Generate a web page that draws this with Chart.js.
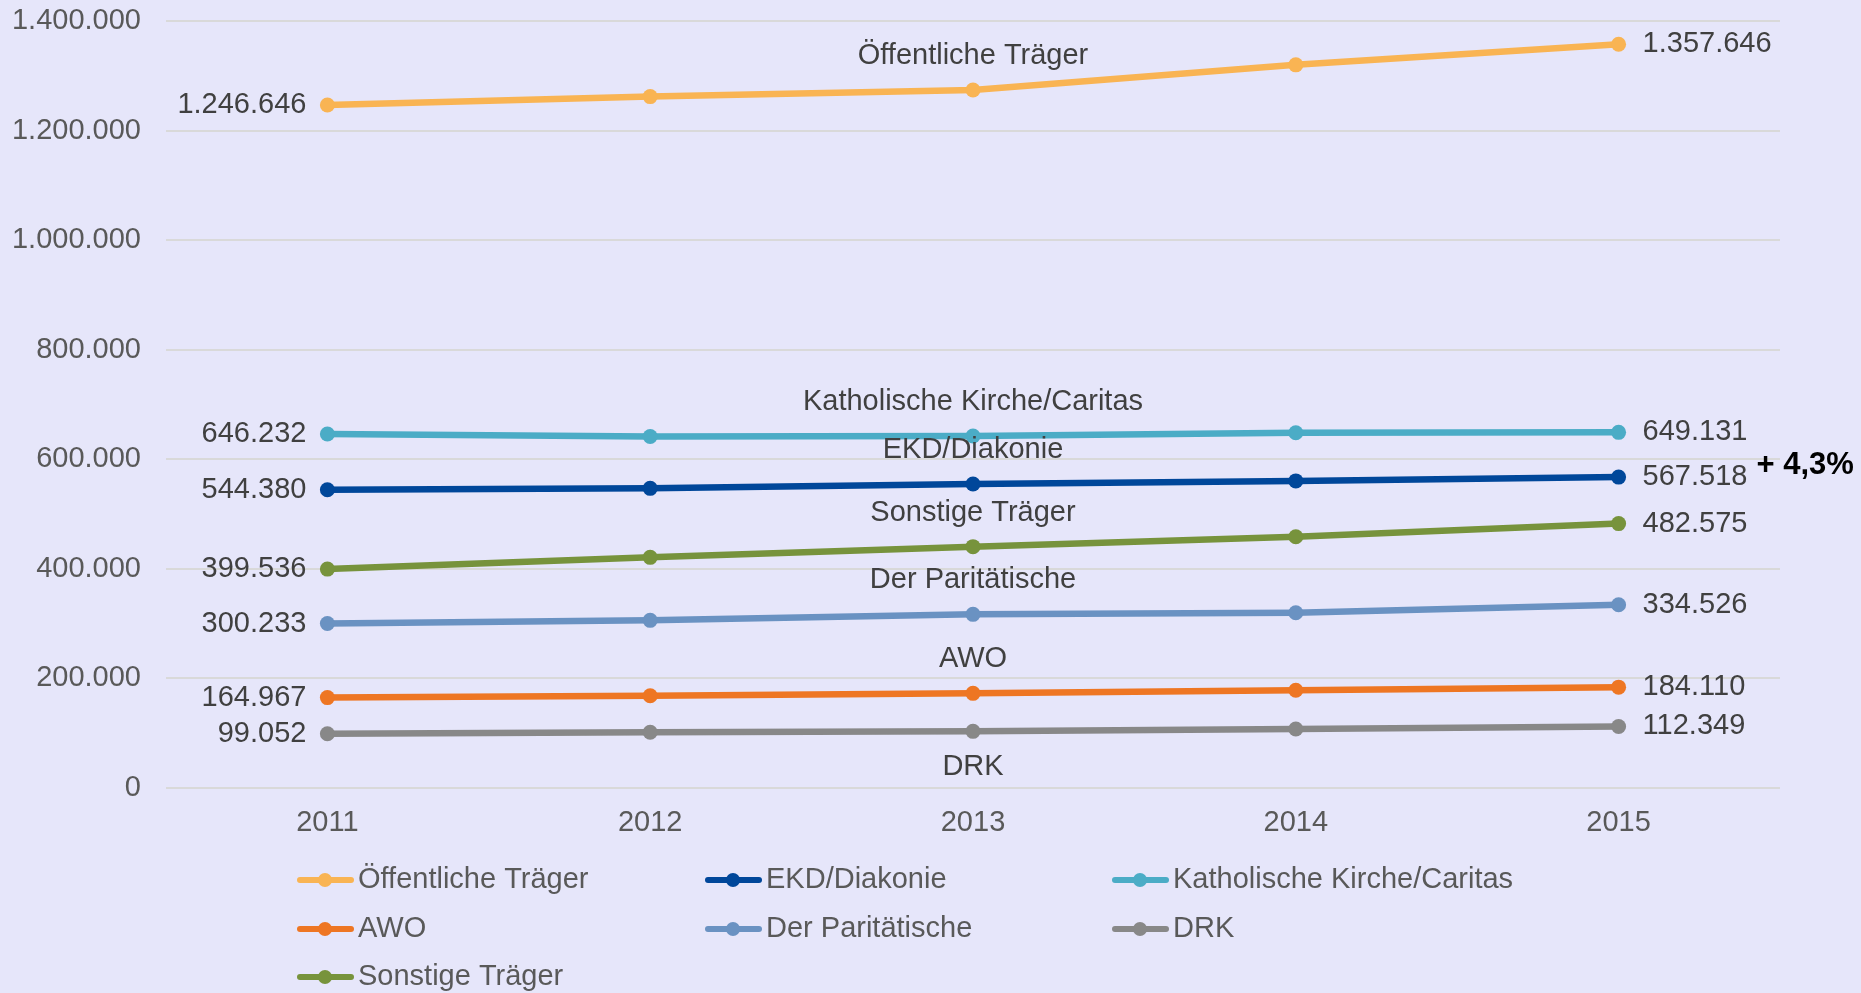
<!DOCTYPE html>
<html><head><meta charset="utf-8">
<script src="https://cdn.jsdelivr.net/npm/chart.js@4.4.0/dist/chart.umd.min.js"></script>
<style>html,body{margin:0;padding:0;background:#E6E6FA;overflow:hidden}</style>
</head><body>
<canvas id="c" width="1861" height="993" style="width:1861px;height:993px;display:block"></canvas>
<script>
// ---- data ----
const years = ['2011', '2012', '2013', '2014', '2015'];
const oeffentliche = [1246646, 1262000, 1274000, 1320000, 1357646];
const ekd = [544380, 547000, 555000, 560500, 567518];
const caritas = [646232, 641500, 642500, 648500, 649131];
const awo = [164967, 168500, 172800, 178300, 184110];
const paritaet = [300233, 306000, 317000, 320000, 334526];
const drk = [99052, 101700, 103400, 107700, 112349];
const sonstige = [399536, 421000, 440500, 458500, 482575];
const seriesNames = ['Öffentliche Träger', 'EKD/Diakonie', 'Katholische Kirche/Caritas', 'AWO', 'Der Paritätische', 'DRK', 'Sonstige Träger'];
const yTickValues = [0, 200000, 400000, 600000, 800000, 1000000, 1200000, 1400000];
const changeNote = '+ 4,3%';

// ---- styling ----
const colors = ['#F9B453', '#00479A', '#4BACC6', '#EE7623', '#6A92C2', '#888888', '#77933C'];
const nameBelow = [false, false, false, false, false, true, false];
const FONT = '"Liberation Sans", Arial, sans-serif';
const FS = 29;

function fmt(v) { return String(Math.round(v)).replace(/\B(?=(\d{3})+(?!\d))/g, '.'); }

const seriesValues = [oeffentliche, ekd, caritas, awo, paritaet, drk, sonstige];
const datasets = seriesValues.map((vals, i) => ({
  label: seriesNames[i],
  data: vals,
  borderColor: colors[i],
  backgroundColor: colors[i],
  pointBackgroundColor: colors[i],
  pointBorderColor: colors[i],
  borderWidth: 6.5,
  pointRadius: 7.5,
  pointBorderWidth: 0,
  tension: 0,
  nameBelow: nameBelow[i]
}));

const bgPlugin = {
  id: 'bg',
  beforeDraw(chart) {
    const ctx = chart.ctx;
    ctx.save();
    ctx.fillStyle = '#E6E6FA';
    ctx.fillRect(0, 0, chart.width, chart.height);
    ctx.restore();
  }
};

const labelPlugin = {
  id: 'vlabels',
  afterDatasetsDraw(chart) {
    const ctx = chart.ctx;
    ctx.save();
    ctx.font = FS + 'px ' + FONT;
    ctx.textBaseline = 'middle';
    chart.data.datasets.forEach((ds, i) => {
      const pts = chart.getDatasetMeta(i).data;
      const first = pts[0], last = pts[pts.length - 1], mid = pts[2];
      ctx.fillStyle = '#404040';
      ctx.textAlign = 'right';
      ctx.fillText(fmt(ds.data[0]), first.x - 21, first.y);
      ctx.textAlign = 'left';
      const lastTxt = fmt(ds.data[ds.data.length - 1]);
      ctx.fillText(lastTxt, last.x + 24, last.y);
      ctx.textAlign = 'center';
      ctx.fillText(ds.label, mid.x, ds.nameBelow ? mid.y + 36 : mid.y - 34);
      if (i === 1) {
        const w = ctx.measureText(lastTxt).width;
        ctx.save();
        ctx.font = 'bold 31px ' + FONT;
        ctx.fillStyle = '#000000';
        ctx.textAlign = 'left';
        ctx.fillText(changeNote, last.x + 24 + w + 9, last.y - 12);
        ctx.restore();
      }
    });
    ctx.restore();
  }
};

const legendPlugin = {
  id: 'gridLegend',
  afterDraw(chart) {
    const ctx = chart.ctx;
    const colX = [297, 705, 1112];
    const rowY = [880, 929, 977];
    ctx.save();
    ctx.font = FS + 'px ' + FONT;
    ctx.textBaseline = 'middle';
    ctx.textAlign = 'left';
    chart.data.datasets.forEach((ds, i) => {
      const x = colX[i % 3], y = rowY[Math.floor(i / 3)];
      ctx.strokeStyle = ds.borderColor;
      ctx.lineWidth = 6;
      ctx.lineCap = 'round';
      ctx.beginPath();
      ctx.moveTo(x + 3, y);
      ctx.lineTo(x + 54, y);
      ctx.stroke();
      ctx.fillStyle = ds.borderColor;
      ctx.beginPath();
      ctx.arc(x + 28, y, 7, 0, Math.PI * 2);
      ctx.fill();
      ctx.fillStyle = '#595959';
      ctx.fillText(ds.label, x + 61, y);
    });
    ctx.restore();
  }
};

new Chart(document.getElementById('c'), {
  type: 'line',
  data: { labels: years, datasets: datasets },
  plugins: [bgPlugin, labelPlugin, legendPlugin],
  options: {
    responsive: false,
    animation: false,
    devicePixelRatio: 1,
    layout: { padding: { left: 0, right: 81, top: 0, bottom: 135 } },
    plugins: { legend: { display: false }, tooltip: { enabled: false } },
    scales: {
      x: {
        offset: true,
        grid: { display: false, drawTicks: false },
        border: { display: false },
        ticks: { color: '#595959', font: { family: FONT, size: FS }, padding: 18, maxRotation: 0 },
        afterFit(s) { s.height = 70; }
      },
      y: {
        min: 0, max: 1400000,
        afterBuildTicks(s) { s.ticks = yTickValues.map(v => ({ value: v })); },
        grid: { color: '#D9D9D9', lineWidth: 2, drawTicks: false },
        border: { display: false },
        ticks: { color: '#595959', font: { family: FONT, size: FS }, padding: 25, callback: v => fmt(v) },
        afterFit(s) { s.width = 166; s.paddingTop = 21; s.paddingBottom = 0; }
      }
    }
  }
});
</script>
</body></html>
